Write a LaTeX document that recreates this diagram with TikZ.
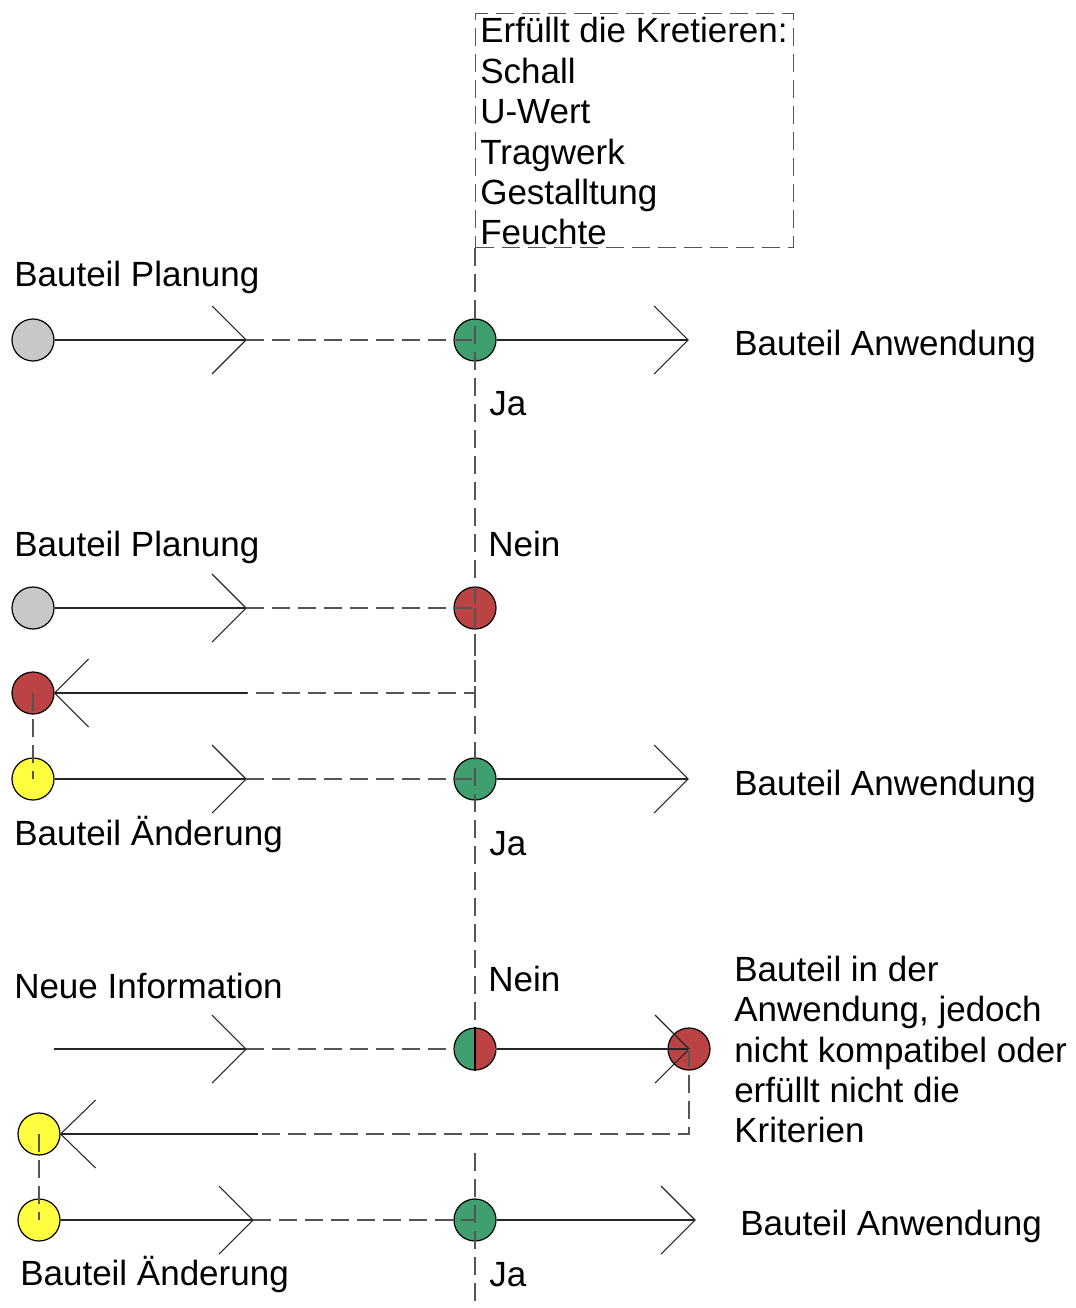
\documentclass[tikz,border=0pt]{standalone}
\usepackage{fontspec}
\setmainfont{Liberation Sans}
\definecolor{cgray}{HTML}{C8C8C8}
\definecolor{cgreen}{HTML}{409F6F}
\definecolor{cred}{HTML}{BC4343}
\definecolor{cyellow}{HTML}{FFFF40}
\definecolor{lgray}{HTML}{555555}
\begin{document}
\begin{tikzpicture}[x=0.75pt,y=-0.75pt,
  circ/.style={circle, draw=black, line width=0.9pt, minimum size=31.5pt, inner sep=0pt},
  sline/.style={draw=black!85, line width=0.8pt},
  dline/.style={draw=lgray, line width=0.9pt, dash pattern=on 13.5pt off 6pt},
  lbl/.style={anchor=base west, inner sep=0pt, font=\fontsize{26.25}{30}\selectfont},
]
\useasboundingbox (0,0) rectangle (1075,1308);

% criteria box
\node[draw=lgray, line width=0.9pt, dash pattern=on 13.5pt off 6pt, minimum width=238.5pt, minimum height=175.5pt, anchor=north west, inner sep=0pt] (crit) at (475,13) {};
\node[lbl] (k1) at (480,43) {Erfüllt die Kretieren:};
\node[lbl] (k2) at (480,83.4) {Schall};
\node[lbl] (k3) at (480,123.8) {U-Wert};
\node[lbl] (k4) at (480,164.2) {Tragwerk};
\node[lbl] (k5) at (480,204.6) {Gestalltung};
\node[lbl] (k6) at (480,245) {Feuchte};

% ---------- row 1
\node[circ, fill=cgray] (p1) at (33,340) {};
\coordinate (t1) at (246,340);
\node[circ, fill=cgreen] (g1) at (475,340) {};
\coordinate (u1) at (688,340);

% ---------- row 2
\node[circ, fill=cgray] (p2) at (33,608) {};
\coordinate (t2) at (246,608);
\node[circ, fill=cred] (r2) at (475,608) {};
\coordinate (c2) at (475,693);
\coordinate (m2) at (247,693);
\node[circ, fill=cred] (r2b) at (33,693) {};
\node[circ, fill=cyellow] (y2) at (33,779) {};
\coordinate (t3) at (246,779);
\node[circ, fill=cgreen] (g2) at (475,779) {};
\coordinate (u2) at (688,779);

% ---------- row 3
\coordinate (n3) at (54,1049);
\coordinate (t4) at (246,1049);
\coordinate (s3c) at (475,1049);
\begin{scope}
  \clip (s3c) circle[radius=15.75pt];
  \fill[cgreen] (455,1025) rectangle (475,1073);
  \fill[cred] (475,1025) rectangle (495,1073);
\end{scope}
\node[circ] (s3) at (s3c) {};
\draw[black, line width=0.9pt] (s3.north) -- (s3.south);
\node[circ, fill=cred] (rr) at (689,1049) {};
\coordinate (c3) at (689,1134);
\coordinate (m3) at (258,1134);
\node[circ, fill=cyellow] (y3) at (39,1134) {};
\node[circ, fill=cyellow] (y4) at (39,1220) {};
\coordinate (t5) at (253,1220);
\node[circ, fill=cgreen] (g3) at (475,1220) {};
\coordinate (u3) at (695,1220);
\coordinate (vg) at (475,1153);
\coordinate (vb) at (475,1308);

% main vertical dashed line
\draw[dline] (crit.south west) -- (g1.center) -- (r2.center) -- (g2.center) -- (s3.north);
\draw[dline] (vg) -- (g3.center) -- (vb);

% row 1 connectors
\draw[sline] (p1.east) -- (t1);
\draw[sline] (t1) ++(-34,-34) -- (t1) -- ++(-34,34);
\draw[dline] (t1) -- (g1.center);
\draw[sline] (g1.east) -- (u1);
\draw[sline] (u1) ++(-34,-34) -- (u1) -- ++(-34,34);

% row 2 connectors
\draw[sline] (p2.east) -- (t2);
\draw[sline] (t2) ++(-34,-34) -- (t2) -- ++(-34,34);
\draw[dline] (t2) -- (r2.center);
\draw[dline] (r2.center) -- (c2) -- (m2);
\draw[sline] (m2) -- (r2b.east);
\draw[sline] (r2b.east) ++(34,-34) -- (r2b.east) -- ++(34,34);
\draw[dline] (r2b.center) -- (y2.center);
\draw[sline] (y2.east) -- (t3);
\draw[sline] (t3) ++(-34,-34) -- (t3) -- ++(-34,34);
\draw[dline] (t3) -- (g2.center);
\draw[sline] (g2.east) -- (u2);
\draw[sline] (u2) ++(-34,-34) -- (u2) -- ++(-34,34);

% row 3 connectors
\draw[sline] (n3) -- (t4);
\draw[sline] (t4) ++(-34,-34) -- (t4) -- ++(-34,34);
\draw[dline] (t4) -- (s3.west);
\draw[sline] (s3.east) -- (rr.center);
\draw[sline] (rr.center) ++(-34,-34) -- (rr.center) -- ++(-34,34);
\draw[dline] (rr.center) -- (c3) -- (m3);
\draw[sline] (m3) -- (y3.east);
\draw[sline] (y3.east) ++(35,-34) -- (y3.east) -- ++(35,34);
\draw[dline] (y3.center) -- (y4.center);
\draw[sline] (y4.east) -- (t5);
\draw[sline] (t5) ++(-34,-34) -- (t5) -- ++(-34,34);
\draw[dline] (t5) -- (g3.center);
\draw[sline] (g3.east) -- (u3);
\draw[sline] (u3) ++(-34,-34) -- (u3) -- ++(-34,34);

% labels
\node[lbl] (bp1) at (14,287) {Bauteil Planung};
\node[lbl] (ba1) at (734,355) {Bauteil Anwendung};
\node[lbl] (ja1) at (489,415) {Ja};
\node[lbl] (bp2) at (14,556) {Bauteil Planung};
\node[lbl] (ne1) at (488,556) {Nein};
\node[lbl] (ba2) at (734,795) {Bauteil Anwendung};
\node[lbl] (bae1) at (14,845) {Bauteil Änderung};
\node[lbl] (ja2) at (489,855) {Ja};
\node[lbl] (ni) at (14,998) {Neue Information};
\node[lbl] (ne2) at (488,991) {Nein};
\node[lbl] (x1) at (734,981) {Bauteil in der};
\node[lbl] (x2) at (734,1021.5) {Anwendung, jedoch};
\node[lbl] (x3) at (734,1062) {nicht kompatibel oder};
\node[lbl] (x4) at (734,1102) {erfüllt nicht die};
\node[lbl] (x5) at (734,1142.5) {Kriterien};
\node[lbl] (ba3) at (740,1235) {Bauteil Anwendung};
\node[lbl] (bae2) at (20,1285) {Bauteil Änderung};
\node[lbl] (ja3) at (489,1286) {Ja};
\end{tikzpicture}
\end{document}
